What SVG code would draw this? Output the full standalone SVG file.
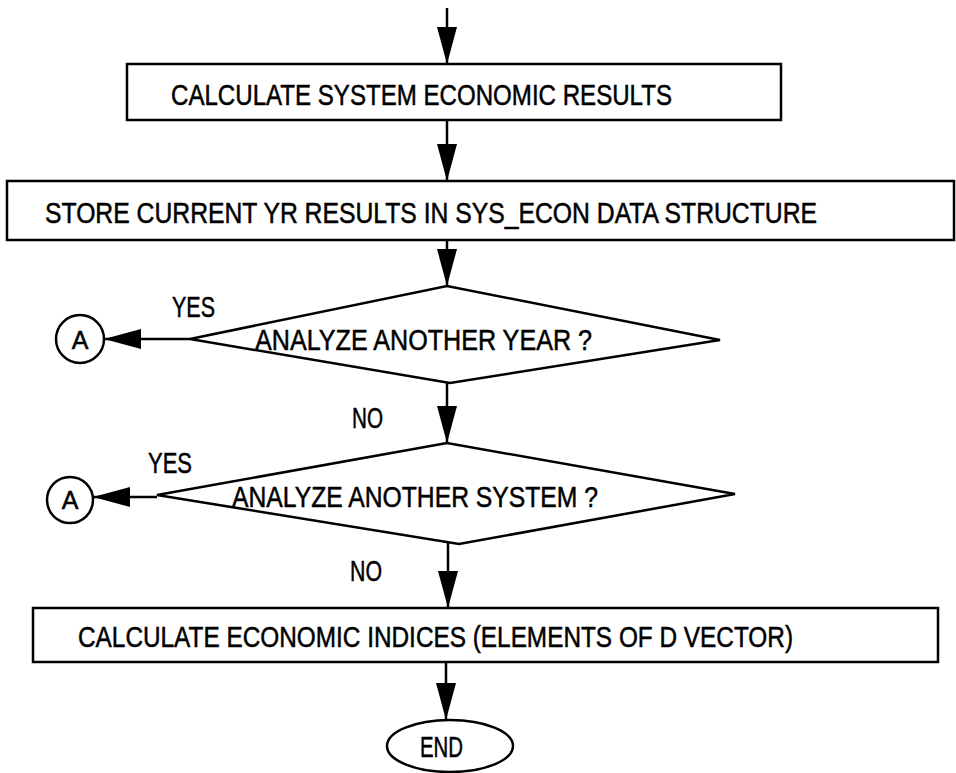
<svg xmlns="http://www.w3.org/2000/svg" width="956" height="773" viewBox="0 0 956 773">
<style>
.s{fill:none;stroke:#000;stroke-width:2.5}
.w{fill:#fff;stroke:#000;stroke-width:2.5}
.t{font-family:"Liberation Sans",Arial,sans-serif;font-size:29px;fill:#000;stroke:#000;stroke-width:0.5}
.c{stroke:#000;stroke-width:2.5;fill:none}
</style>
<defs>
<marker id="ah" markerUnits="userSpaceOnUse" markerWidth="38" markerHeight="22" refX="37" refY="11" orient="auto" viewBox="0 0 38 22">
<path d="M0,1 L37,11 L0,21 Z" fill="#000"/>
</marker>
</defs>
<rect width="956" height="773" fill="#fff"/>
<g id="connectors">
<line class="c" x1="447" y1="8" x2="447" y2="64" marker-end="url(#ah)"/>
<line class="c" x1="447" y1="120" x2="447" y2="181" marker-end="url(#ah)"/>
<line class="c" x1="447" y1="240" x2="447" y2="286" marker-end="url(#ah)"/>
<line class="c" x1="190" y1="339" x2="104" y2="339" marker-end="url(#ah)"/>
<line class="c" x1="447" y1="383" x2="447" y2="443" marker-end="url(#ah)"/>
<line class="c" x1="157" y1="497" x2="93" y2="497" marker-end="url(#ah)"/>
<line class="c" x1="448" y1="543" x2="448" y2="608" marker-end="url(#ah)"/>
<line class="c" x1="446" y1="662" x2="446" y2="720" marker-end="url(#ah)"/>
<text class="t" x="172" y="317" textLength="43" lengthAdjust="spacingAndGlyphs">YES</text>
<text class="t" x="352" y="428" textLength="31" lengthAdjust="spacingAndGlyphs">NO</text>
<text class="t" x="148" y="473" textLength="44" lengthAdjust="spacingAndGlyphs">YES</text>
<text class="t" x="350" y="581" textLength="32" lengthAdjust="spacingAndGlyphs">NO</text>
</g>
<g id="calc-system">
<rect class="w" x="127" y="64" width="654" height="56"/>
<text class="t" x="171" y="105" textLength="501" lengthAdjust="spacingAndGlyphs">CALCULATE SYSTEM ECONOMIC RESULTS</text>
</g>
<g id="store">
<rect class="w" x="7" y="181" width="947" height="59"/>
<text class="t" x="45" y="223" textLength="772" lengthAdjust="spacingAndGlyphs">STORE CURRENT YR RESULTS IN SYS_ECON DATA STRUCTURE</text>
</g>
<g id="another-year">
<polygon class="w" points="190,339 447,286 720,340 450,383"/>
<text class="t" x="255" y="350" textLength="337" lengthAdjust="spacingAndGlyphs">ANALYZE ANOTHER YEAR ?</text>
</g>
<g id="connector-a1">
<circle class="w" cx="80" cy="339" r="24"/>
<text class="t" x="80" y="349" text-anchor="middle" style="font-size:25px">A</text>
</g>
<g id="another-system">
<polygon class="w" points="157,495 447,443 735,494 459,544"/>
<text class="t" x="232" y="507" textLength="366" lengthAdjust="spacingAndGlyphs">ANALYZE ANOTHER SYSTEM ?</text>
</g>
<g id="connector-a2">
<circle class="w" cx="70" cy="500" r="23"/>
<text class="t" x="70" y="509" text-anchor="middle" style="font-size:25px">A</text>
</g>
<g id="calc-indices">
<rect class="w" x="33" y="608" width="905" height="54"/>
<text class="t" x="78" y="647" textLength="715" lengthAdjust="spacingAndGlyphs">CALCULATE ECONOMIC INDICES (ELEMENTS OF D VECTOR)</text>
</g>
<g id="end">
<ellipse class="w" cx="450" cy="746" rx="63" ry="26"/>
<text class="t" x="420" y="757" textLength="43" lengthAdjust="spacingAndGlyphs">END</text>
</g>
</svg>
